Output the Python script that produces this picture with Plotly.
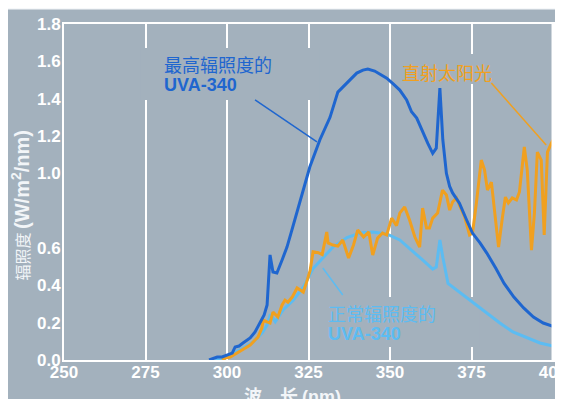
import plotly.graph_objects as go

# ---- data ----
wl_max = [294.5, 297.0, 298.5, 300.0, 301.6, 302.5, 303.7, 304.9, 307.1, 308.6, 310.1, 311.4, 312.3,
          313.2, 314.1, 315.3, 316.9, 318.4, 319.9, 320.8, 322.4, 325.4, 328.5, 331.6, 334.0, 335.5,
          337.7, 339.8, 341.7, 343.2, 345.3, 346.9, 349.0, 350.9, 353.0, 355.1, 356.6, 358.2, 360.0,
          361.6, 363.1, 364.2, 365.3, 366.2, 367.3, 368.3, 369.2, 371.3, 373.5, 375.3, 377.6, 379.7,
          382.5, 385.0, 388.0, 391.0, 394.0, 397.0, 400.0]
irr_max = [0.0, 0.016, 0.016, 0.027, 0.037, 0.07, 0.075, 0.091, 0.118, 0.15, 0.198, 0.241, 0.295,
           0.563, 0.471, 0.466, 0.536, 0.605, 0.696, 0.75, 0.857, 1.034, 1.18, 1.30, 1.435, 1.46,
           1.50, 1.537, 1.553, 1.559, 1.548, 1.532, 1.51, 1.48, 1.446, 1.393, 1.33, 1.296, 1.22,
           1.16, 1.107, 1.135, 1.456, 1.18, 1.0, 0.93, 0.895, 0.84, 0.75, 0.68, 0.627, 0.573,
           0.49, 0.41, 0.337, 0.279, 0.23, 0.198, 0.18]

wl_normal = [296.4, 299.0, 302.0, 305.0, 308.0, 310.8, 312.3, 313.3, 314.8, 317.2, 320.3, 323.4,
             326.4, 329.5, 332.5, 336.8, 340.8, 344.7, 349.0, 353.0, 357.0, 360.0, 363.1, 364.2,
             365.3, 366.2, 367.8, 371.5, 375.5, 379.7, 383.7, 387.7, 392.0, 396.0, 400.0]
irr_normal = [0.0, 0.01, 0.037, 0.064, 0.096, 0.145, 0.187, 0.245, 0.205, 0.268, 0.32, 0.39,
              0.49, 0.55, 0.605, 0.656, 0.68, 0.685, 0.675, 0.643, 0.584, 0.536, 0.487, 0.498,
              0.643, 0.55, 0.41, 0.36, 0.305, 0.25, 0.198, 0.15, 0.118, 0.091, 0.075]

wl_sun = [298.5, 299.4, 301.0, 303.0, 305.0, 307.1, 308.6, 309.5, 310.7, 311.1, 312.3, 313.2,
          314.1, 315.6, 316.9, 317.8, 318.7, 320.0, 321.5, 322.4, 323.4, 324.6, 325.5, 326.4,
          328.0, 329.2, 330.6, 331.0, 332.5, 334.0, 335.5, 337.3, 338.8, 340.1, 341.9, 343.5,
          344.7, 346.2, 347.7, 349.0, 350.5, 352.0, 353.0, 354.5, 356.0, 357.6, 359.1, 360.0,
          361.2, 362.1, 363.1, 364.6, 366.1, 367.3, 368.3, 369.2, 370.4, 371.3, 372.9, 374.4,
          375.3, 376.5, 378.0, 379.0, 379.9, 381.1, 382.0, 383.3, 384.5, 385.4, 386.3, 387.5,
          388.8, 389.7, 391.2, 392.1, 393.4, 394.3, 395.2, 396.4, 397.3, 398.3, 399.5, 400.0]
irr_sun = [0.0, 0.01, 0.016, 0.037, 0.054, 0.08, 0.107, 0.123, 0.171, 0.214, 0.204, 0.198,
           0.257, 0.23, 0.295, 0.321, 0.31, 0.337, 0.386, 0.375, 0.364, 0.428, 0.48, 0.58,
           0.575, 0.565, 0.686, 0.627, 0.616, 0.61, 0.643, 0.546, 0.616, 0.696, 0.659, 0.686,
           0.562, 0.653, 0.68, 0.67, 0.76, 0.72, 0.787, 0.82, 0.75, 0.66, 0.605, 0.814,
           0.707, 0.707, 0.76, 0.787, 0.91, 0.884, 0.803, 0.846, 0.868, 0.83, 0.766, 0.67,
           0.68, 0.841, 1.071, 1.018, 0.91, 0.953, 0.82, 0.605, 0.766, 0.873, 0.841, 0.868,
           0.857, 0.9, 1.141, 1.018, 0.589, 0.787, 1.114, 1.071, 0.67, 1.114, 1.162, 1.178]

x_ticks = [250, 275, 300, 325, 350, 375, 400]
y_ticks = [0.0, 0.2, 0.4, 0.6, 1.0, 1.2, 1.4, 1.6, 1.8]
y_ticktext = ["0.0", "0.2", "0.4", "0.6", "1.0", "1.2", "1.4", "1.6", "1.8"]

# ---- style ----
BG = "#a3b1bd"
BLUE = "#1f66cf"
CYAN = "#5cbcf2"
ORANGE = "#f0a020"
CJK = "Noto Sans CJK SC"
LAT = "Liberation Sans"

# page has an 8px body margin; figure sized to fill the rest of the window
W, H = 555, 391
L, R, T, B = 55.5, 10, 16, 39
PW, PH = W - L - R, H - T - B

fig = go.Figure()
fig.add_trace(go.Scatter(x=wl_normal, y=irr_normal, mode="lines",
                         line=dict(color=CYAN, width=3), hoverinfo="skip"))
fig.add_trace(go.Scatter(x=wl_sun, y=irr_sun, mode="lines",
                         line=dict(color=ORANGE, width=3), hoverinfo="skip"))
fig.add_trace(go.Scatter(x=wl_max, y=irr_max, mode="lines",
                         line=dict(color=BLUE, width=3), hoverinfo="skip"))

shapes = []
# thin light strip at very top of figure
shapes.append(dict(type="rect", xref="paper", yref="paper", x0=-0.2, x1=1.1,
                   y0=1 + (T - 1.5) / PH, y1=1.2,
                   fillcolor="#f6f8fa", line=dict(width=0), layer="below"))
# label backing boxes that interrupt the grid lines
for x0, x1, y0, y1 in [(273.4, 328.5, 1.393, 1.671), (351.5, 383.7, 1.478, 1.639),
                       (328.5, 377.4, 0.07, 0.337)]:
    shapes.append(dict(type="rect", xref="x", yref="y", x0=x0, x1=x1, y0=y0, y1=y1,
                       fillcolor=BG, line=dict(width=0), layer="between"))
# right frame line
shapes.append(dict(type="line", xref="paper", yref="paper", x0=0.999, x1=0.999, y0=0, y1=1,
                   line=dict(color="white", width=2)))
# leader lines
shapes.append(dict(type="line", xref="x", yref="y", x0=308.6, y0=1.393, x1=327.6, y1=1.168,
                   line=dict(color=BLUE, width=1.5)))
shapes.append(dict(type="line", xref="x", yref="y", x0=381.1, y0=1.484, x1=397.9, y1=1.152,
                   line=dict(color=ORANGE, width=1.5)))
shapes.append(dict(type="line", xref="x", yref="y", x0=329.4, y0=0.493, x1=335.5, y1=0.348,
                   line=dict(color=CYAN, width=1.5)))

ann = []
def label(text, x, y, color, family, size=18, weight="normal"):
    ann.append(dict(text=text, x=x, y=y, xref="x", yref="y", xanchor="left", yanchor="middle",
                    showarrow=False, borderpad=0,
                    font=dict(family=family, size=size, color=color, weight=weight)))

label("最高辐照度的", 280.5, 1.585, BLUE, CJK)
label("UVA-340", 280.5, 1.473, BLUE, LAT, weight="bold")
label("直射太阳光", 353.3, 1.543, ORANGE, CJK)
label("正常辐照度的", 330.6, 0.252, CYAN, CJK)
label("UVA-340", 330.6, 0.139, CYAN, LAT, weight="bold")

# axis titles (positions in reference page pixels, page offset 8px)
def px(xp):
    return (xp - 8 - L) / PW
def py(yp):
    return 1 - (yp - 8 - T) / PH

ann.append(dict(text="辐照度 <b><span style='font-family:Liberation Sans;font-size:20px'>(W/m<sup>2</sup>/nm)</span></b>",
                xref="paper", yref="paper", x=px(20), y=py(205),
                xanchor="center", yanchor="middle", textangle=-90, showarrow=False,
                font=dict(family=CJK, size=16, color="#f2f5f8")))
ann.append(dict(text="<b>波　长 <span style='font-family:Liberation Sans'>(nm)</span></b>",
                xref="paper", yref="paper", x=px(242), y=py(395),
                xanchor="left", yanchor="middle", showarrow=False,
                font=dict(family=CJK, size=18, color="#f2f5f8")))

fig.update_layout(
    width=W, height=H,
    margin=dict(l=L, r=R, t=T, b=B, pad=0),
    paper_bgcolor=BG, plot_bgcolor=BG,
    showlegend=False,
    shapes=shapes, annotations=ann,
    xaxis=dict(range=[250, 400], tickvals=x_ticks, ticktext=[str(v) for v in x_ticks],
               showgrid=True, gridcolor="white", gridwidth=1.5, zeroline=False,
               showline=True, linecolor="white", linewidth=2, mirror=True, ticks="",
               tickfont=dict(family=LAT, size=17, color="white", weight="bold"),
               ticklabeloverflow="allow", ticklabelstandoff=-4,
               automargin=False),
    yaxis=dict(range=[0, 1.8], tickvals=y_ticks, ticktext=y_ticktext,
               showgrid=False, zeroline=False,
               showline=True, linecolor="white", linewidth=2, mirror=True, ticks="",
               tickfont=dict(family=LAT, size=17, color="white", weight="bold"),
               ticklabeloverflow="allow", ticklabelstandoff=-2,
               automargin=False),
)

fig.write_html("out.html")
